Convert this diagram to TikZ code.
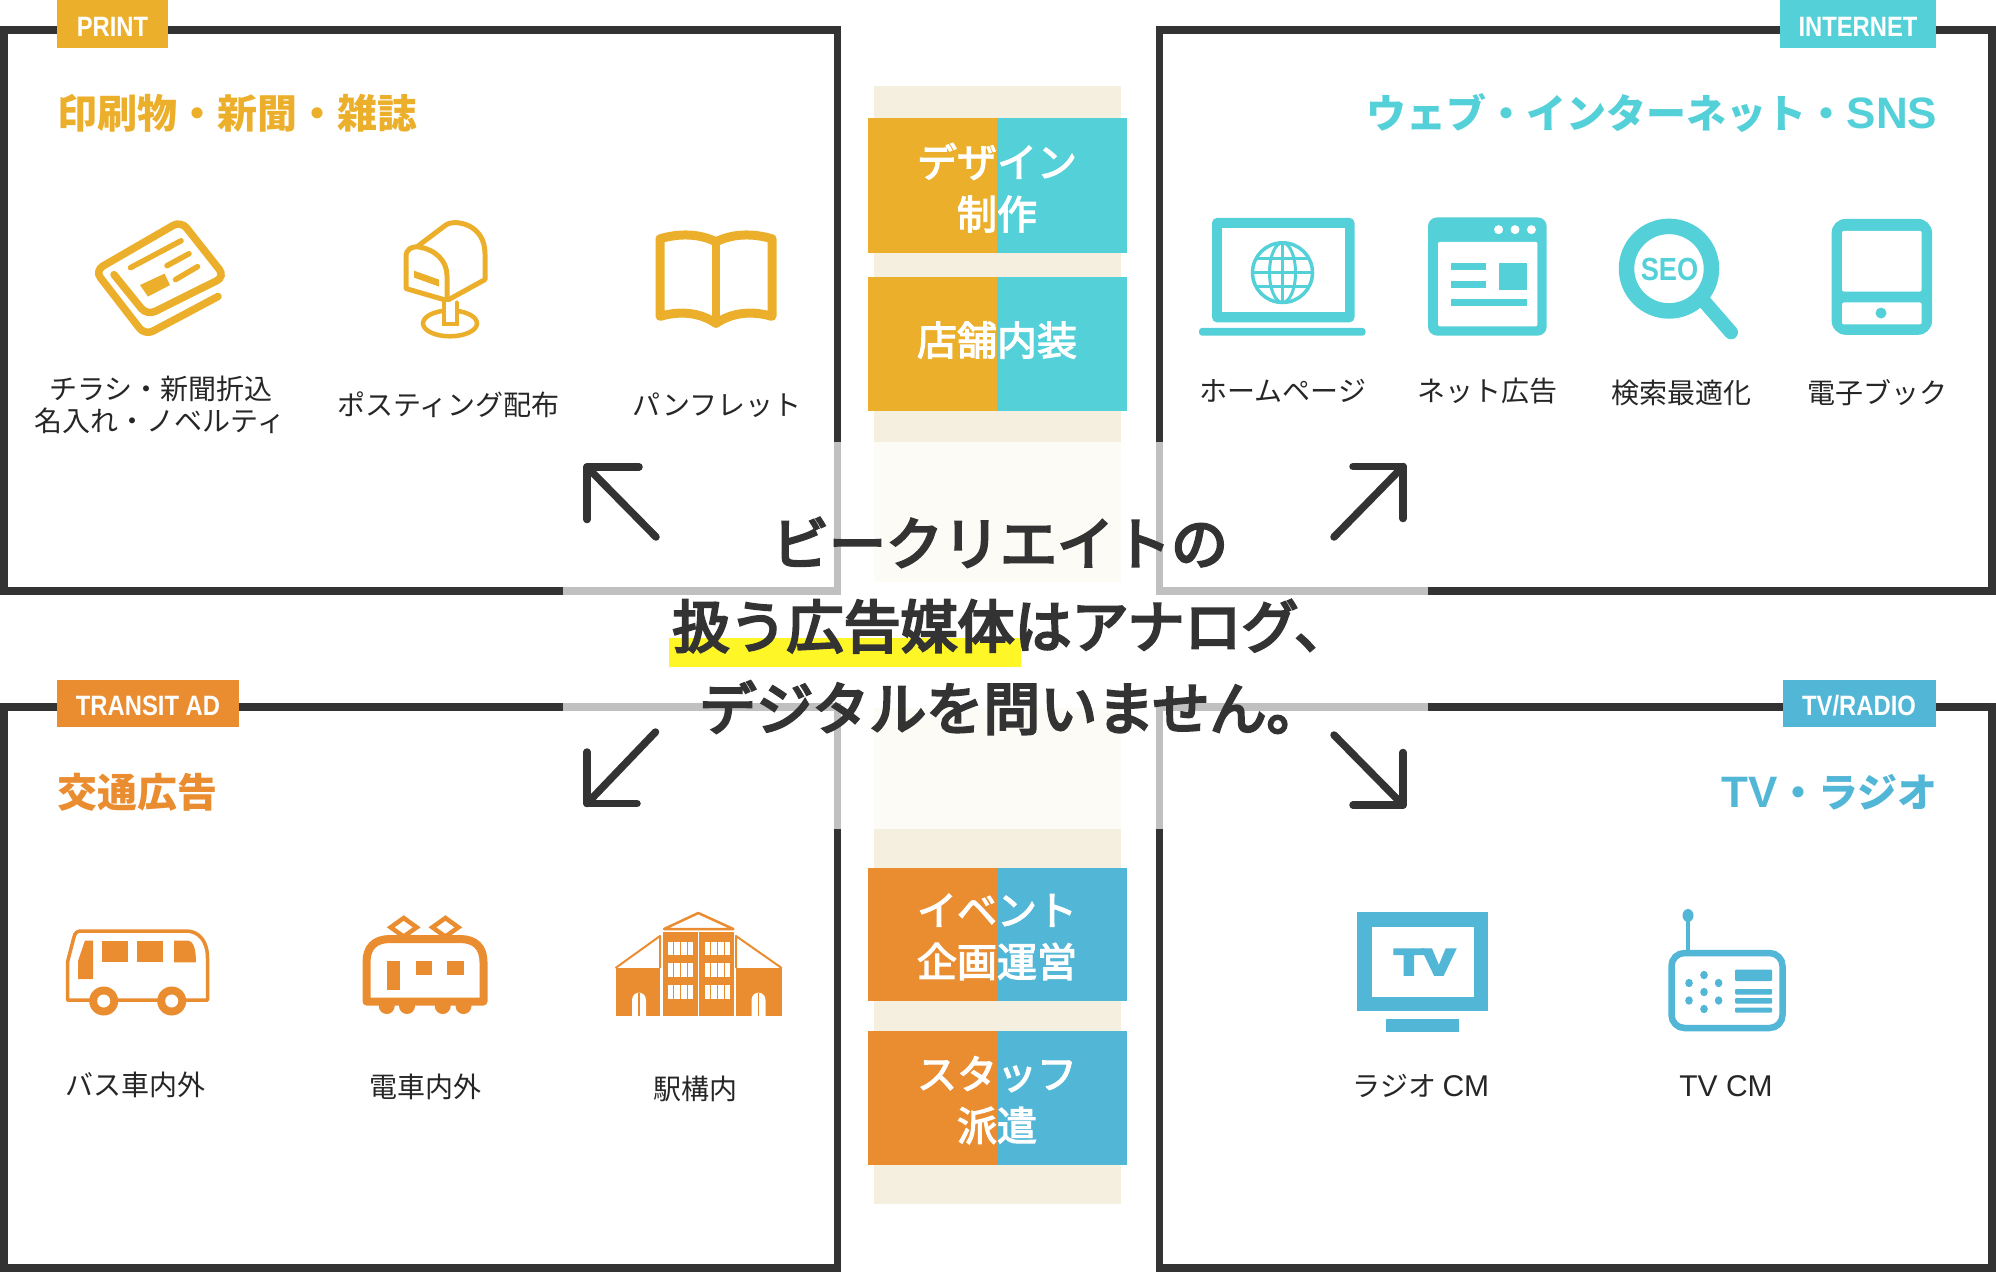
\documentclass[tikz,border=0pt]{standalone}
\usepackage{fontspec}
\setmainfont{Noto Sans CJK JP}
\newfontfamily\tagfont[FakeStretch=0.85]{Liberation Sans}
\newfontfamily\latinfont{Liberation Sans}
\newfontfamily\tvfont[BoldFeatures={FakeBold=8}]{Liberation Sans}
\newfontfamily\midfont[FakeBold=3]{Noto Sans CJK JP}
\newfontfamily\statefont[FakeBold=4.5]{Noto Sans CJK JP}
\definecolor{darkline}{HTML}{333333}
\definecolor{grayline}{HTML}{C0C0C0}
\definecolor{printgold}{HTML}{EBAF2B}
\definecolor{webcyan}{HTML}{54D0D8}
\definecolor{transitorange}{HTML}{EA8C30}
\definecolor{tvblue}{HTML}{52B6D7}
\definecolor{markyellow}{HTML}{FFF628}
\definecolor{beigedark}{HTML}{F5EFDF}
\definecolor{beigelight}{HTML}{FCFBF6}
\tikzset{
  boxline/.style = {line width = 7.5pt, darkline},
  boxfade/.style = {line width = 7.5pt, grayline},
  bigarrow/.style = {line width = 7.5pt, darkline, line cap = round, line join = round},
  itemlabel/.style = {inner sep = 0pt, text = black!85, font = \fontsize{28}{30}\selectfont, text height = 24.6pt, text depth = 3.4pt},
  headlabel/.style = {inner sep = 0pt, font = \fontsize{40}{44}\selectfont\bfseries, text height = 35.2pt, text depth = 4.8pt},
  taglabel/.style = {inner sep = 0pt, text = white, font = \fontsize{28}{30}\selectfont\tagfont\bfseries, text height = 20pt, text depth = 0pt},
  blocklabel/.style = {inner sep = 0pt, text = white, font = \fontsize{40}{44}\selectfont\midfont, text height = 35.2pt, text depth = 4.8pt},
  centerlabel/.style = {inner sep = 0pt, text = darkline, font = \fontsize{57}{60}\selectfont\statefont, text height = 50.2pt, text depth = 6.8pt}
}
\begin{document}
\begin{tikzpicture}[x = 1pt, y = -1pt]
\useasboundingbox (0,0) rectangle (1996,1272);
% middle column
\fill[beigedark] (874,86) rectangle (1121,442);
\fill[beigelight] (874,442) rectangle (1121,582);
\fill[beigelight] (874,708) rectangle (1121,829);
\fill[beigedark] (874,829) rectangle (1121,1204);
\foreach \ya/\yb/\cl/\cr in {118/252.7/printgold/webcyan, 277.3/411/printgold/webcyan, 867.5/1001/transitorange/tvblue, 1031.4/1165/transitorange/tvblue}{
  \fill[\cl] (868,\ya) rectangle (997.3,\yb);
  \fill[\cr] (997.3,\ya) rectangle (1127,\yb);
}
\node[blocklabel] (design) at (997,162) {デザイン};
\node[blocklabel] (seisaku) at (997,214) {制作};
\node[blocklabel] (tenpo) at (997,340) {店舗内装};
\node[blocklabel] (event) at (997,910) {イベント};
\node[blocklabel] (kikaku) at (997,961.5) {企画運営};
\node[blocklabel] (staff) at (997,1073.7) {スタッフ};
\node[blocklabel] (haken) at (997,1125.4) {派遣};
% frames
\draw[boxline] (563,591) -- (4,591) -- (4,30) -- (837.5,30) -- (837.5,442);
\draw[boxfade] (837.5,442) -- (837.5,591) -- (563,591);
\draw[boxline] (1159.5,442) -- (1159.5,30) -- (1992,30) -- (1992,591) -- (1427.6,591);
\draw[boxfade] (1427.6,591) -- (1159.5,591) -- (1159.5,442);
\draw[boxline] (563,707) -- (4,707) -- (4,1268) -- (837.5,1268) -- (837.5,829);
\draw[boxfade] (837.5,829) -- (837.5,707) -- (563,707);
\draw[boxline] (1159.5,829) -- (1159.5,1268) -- (1992,1268) -- (1992,707) -- (1427.6,707);
\draw[boxfade] (1427.6,707) -- (1159.5,707) -- (1159.5,829);
% corner tags
\fill[printgold] (57,0) rectangle (168,47.5);
\node[taglabel] (tagprint) at (112.5,26) {PRINT};
\fill[webcyan] (1780,0) rectangle (1936,47.5);
\node[taglabel] (tagweb) at (1858,26) {INTERNET};
\fill[transitorange] (57,680) rectangle (238.6,727);
\node[taglabel] (tagtransit) at (148,705.5) {TRANSIT AD};
\fill[tvblue] (1782.5,680) rectangle (1936,727);
\node[taglabel] (tagtv) at (1859,705.5) {TV/RADIO};
% headings
\node[headlabel, anchor = west, text = printgold] (headprint) at (57,113.5) {印刷物・新聞・雑誌};
\node[headlabel, anchor = east, text = webcyan] (headweb) at (1937.5,113.5) {ウェブ・インターネット・{\fontsize{44}{44}\selectfont\latinfont\bfseries SNS}};
\node[headlabel, anchor = west, text = transitorange] (headtransit) at (57,792) {交通広告};
\node[headlabel, anchor = east, text = tvblue] (headtv) at (1937.5,792) {{\fontsize{44}{44}\selectfont\latinfont\bfseries TV}・ラジオ};
% item labels
\node[itemlabel] (chirashi) at (161,389) {チラシ・新聞折込};
\node[itemlabel] (novelty) at (160,421) {名入れ・ノベルティ};
\node[itemlabel] (posting) at (448.5,405) {ポスティング配布};
\node[itemlabel] (pamphlet) at (717,404.5) {パンフレット};
\node[itemlabel] (homepage) at (1283,391) {ホームページ};
\node[itemlabel] (netad) at (1487,391) {ネット広告};
\node[itemlabel] (seo) at (1681,393) {検索最適化};
\node[itemlabel] (ebook) at (1877,393) {電子ブック};
\node[itemlabel] (bus) at (135,1085) {バス車内外};
\node[itemlabel] (train) at (425,1087) {電車内外};
\node[itemlabel] (station) at (695,1089) {駅構内};
\node[itemlabel] (radiocm) at (1421,1086) {ラジオ {\fontsize{30}{30}\selectfont\latinfont CM}};
\node[itemlabel] (tvcm) at (1726,1086) {\fontsize{30}{30}\selectfont\latinfont TV CM};
\begin{scope}[yscale = 0.995]
% newspaper
\draw[printgold, line width = 7.5pt, rounded corners = 9pt, line cap = round] (218,298) -- (145,337) -- (95,272) -- (181,222) -- (225,278) -- (147,317) -- (114,276);
\draw[printgold, line width = 5.5pt, line cap = round] (130.5,269) -- (181,242);
\draw[printgold, line width = 5.5pt, line cap = round] (167,267) -- (189,255);
\draw[printgold, line width = 5.5pt, line cap = round] (175.5,281) -- (197.5,268);
\fill[printgold] (140,286.5) -- (164.5,275) -- (170,286.5) -- (148,298) -- cycle;
% mailbox
\draw[printgold, line width = 5pt, line join = round] (447,302) -- (406,290) -- (406,258) .. controls (406,250) and (412,248) .. (417,248) .. controls (435,250) and (447,262) .. (447,277) -- cycle;
\draw[printgold, line width = 5pt, line join = round] (417,248) -- (446,226) .. controls (455,220) and (485,225) .. (485,255) -- (485,281) -- (447,302);
\fill[printgold] (414,272) -- (439,281) -- (439,288) -- (414,279) -- cycle;
\draw[printgold, line width = 4.5pt] (450,325) ellipse (27 and 13);
\fill[white] (443,304) rectangle (456.5,328);
\draw[printgold, line width = 4pt, line cap = round] (443.5,304) -- (443.5,326) -- (456.5,326) -- (456.5,304);
% book
\draw[printgold, line width = 9pt, line join = round] (716,243) .. controls (700,235) and (680,234) .. (660,240) -- (660,318) .. controls (680,312) and (700,314) .. (716,325) .. controls (732,314) and (752,312) .. (772,318) -- (772,240) .. controls (752,234) and (732,235) .. (716,243) -- cycle;
\draw[printgold, line width = 8pt] (716,243) -- (716,325);
% laptop
\fill[webcyan, rounded corners = 5pt] (1212,219) rectangle (1354.5,324);
\fill[white] (1222,229.6) rectangle (1345,314);
\fill[webcyan, rounded corners = 3pt] (1199,329.6) -- (1365.5,329.6) -- (1365.5,337.3) -- (1199,337.3) -- cycle;
\draw[webcyan, line width = 3.5pt] (1282.5,274) circle [radius = 30];
\draw[webcyan, line width = 3pt] (1282.5,274) ellipse (13 and 30);
\draw[webcyan, line width = 3pt] (1282.5,244) -- (1282.5,304);
\draw[webcyan, line width = 3pt] (1252.5,274) -- (1312.5,274);
\draw[webcyan, line width = 3pt] (1256,260) -- (1309,260);
\draw[webcyan, line width = 3pt] (1256,288) -- (1309,288);
% browser
\fill[webcyan, rounded corners = 9pt] (1428,218.5) rectangle (1546.7,337.3);
\fill[white, rounded corners = 2pt] (1438,243) rectangle (1537.4,328);
\foreach \dotx in {1498.6,1515,1531.4}{
  \fill[white] (\dotx,230.8) circle [radius = 4.5];
}
\fill[webcyan] (1451,264) rectangle (1486,271);
\fill[webcyan] (1451,282) rectangle (1486,289);
\fill[webcyan] (1499,264) rectangle (1526.5,291);
\fill[webcyan] (1451,300) rectangle (1526.5,307.7);
% magnifier
\draw[webcyan, line width = 14pt, line cap = round] (1705,304) -- (1731,334);
\draw[webcyan, line width = 15.5pt, fill = white] (1669,270) circle [radius = 42.5];
\node[inner sep = 0pt, text = webcyan, font = \fontsize{32}{34}\selectfont\tagfont\bfseries, text height = 23pt, text depth = 0pt] (seotext) at (1669.5,270) {SEO};
% tablet
\fill[webcyan, rounded corners = 14pt] (1831.6,220) rectangle (1932,336.5);
\fill[white, rounded corners = 2pt] (1842,232) rectangle (1921.7,293);
\fill[white, rounded corners = 2pt] (1842,304) rectangle (1921.7,326);
\fill[webcyan] (1881,314.6) circle [radius = 5.5];
\end{scope}
% bus
\draw[transitorange, line width = 3.5pt, line join = round] (67.5,1000) -- (67.5,962) -- (74,937) .. controls (75,933) and (77,931) .. (81,931) -- (186,931) .. controls (199,931) and (207.5,941) .. (207.5,958) -- (207.5,1000) -- cycle;
\fill[transitorange] (85,940.5) -- (93,940.5) -- (93,979) -- (78,979) -- (78,961) -- cycle;
\fill[transitorange] (102,940.5) rectangle (128,962.4);
\fill[transitorange] (136.6,940.5) rectangle (163,962.4);
\fill[transitorange] (174,940.5) -- (188,940.5) .. controls (193,941) and (196,948) .. (196,962.4) -- (174,962.4) -- cycle;
\foreach \wheelx in {103.7,171.7}{
  \fill[transitorange] (\wheelx,1001) circle [radius = 14.5];
  \fill[white] (\wheelx,1001) circle [radius = 6.5];
}
% train
\foreach \wheelx in {386.7,407,442.7,463.5}{
  \fill[transitorange] (\wheelx,1006) circle [radius = 8];
}
\draw[transitorange, line width = 8pt, line join = round, fill = white] (366.5,1001.5) -- (366.5,962) .. controls (366.5,947) and (375,939) .. (390,939) -- (460,939) .. controls (475,939) and (483.5,947) .. (483.5,962) -- (483.5,1001.5) -- cycle;
\fill[transitorange] (386.7,961) rectangle (400.4,989.5);
\fill[transitorange] (415.8,961) rectangle (432.3,975);
\fill[transitorange] (447,961) rectangle (463.5,975);
\foreach \panx in {403.7,445.4}{
  \draw[transitorange, line width = 4.5pt, line join = miter] (\panx-13,927.3) -- (\panx,918) -- (\panx+13,927.3) -- (\panx,936.6) -- cycle;
}
% station
\fill[transitorange] (615.5,968) rectangle (660,1016);
\fill[transitorange] (736,968) rectangle (781.7,1016);
\draw[transitorange, line width = 2pt, line join = round] (615.5,968) -- (660,936) -- (660,968);
\draw[transitorange, line width = 2pt, line join = round] (781.7,968) -- (736,936) -- (736,968);
\draw[transitorange, line width = 2.5pt, line join = round] (664,929) -- (698.3,913) -- (733.4,929) -- cycle;
\fill[transitorange] (662.7,932) rectangle (734,1016);
\draw[white, line width = 1.5pt] (698.3,932) -- (698.3,1016);
\foreach \winx in {666.5,703.7}{
  \foreach \winy in {940.5,962,984}{
    \fill[white] (\winx,\winy) rectangle (\winx+27.4,\winy+15.5);
    \draw[transitorange, line width = 1pt] (\winx+.5,\winy+.5) rectangle (\winx+26.9,\winy+15);
    \foreach \bar in {6.9,13.7,20.5}{
      \draw[transitorange, line width = 1pt] (\winx+\bar,\winy) -- (\winx+\bar,\winy+15.5);
    }
  }
}
\foreach \doorx in {632,751.5}{
  \fill[white] (\doorx,1016) -- (\doorx,1000) .. controls (\doorx,995) and (\doorx+4,992.6) .. (\doorx+7,992.6) .. controls (\doorx+10,992.6) and (\doorx+14,995) .. (\doorx+14,1000) -- (\doorx+14,1016) -- cycle;
  \draw[transitorange, line width = 1.3pt] (\doorx+7,992.6) -- (\doorx+7,1016);
}
% television
\fill[tvblue] (1357,912) rectangle (1487.7,1011.4);
\fill[white] (1372,926.5) rectangle (1473.5,997);
\fill[tvblue] (1386,1019.4) rectangle (1459,1032);
\node[inner sep = 0pt, text = tvblue, font = \fontsize{36}{38}\selectfont\tvfont\bfseries, text height = 25.7pt, text depth = 0pt] (tvtext) at (1424.5,961.6) {\scalebox{1.3}[1]{TV}};
% radio
\draw[tvblue, line width = 4.5pt, line cap = round] (1688,916) -- (1688,952);
\fill[tvblue] (1688,915.5) ellipse (5.5 and 6.5);
\draw[tvblue, line width = 6.5pt, fill = white, rounded corners = 13pt] (1671.5,953) rectangle (1782.5,1028);
\foreach \dotx/\doty in {1704/975, 1689/983, 1718.6/983, 1704/992, 1689/1000.5, 1718.6/1000.5, 1704/1009}{
  \fill[tvblue] (\dotx,\doty) ellipse (3.8 and 4.2);
}
\fill[tvblue, rounded corners = 1pt] (1735,969.5) rectangle (1772,981);
\fill[tvblue, rounded corners = 1pt] (1735,989) rectangle (1772,994.5);
\fill[tvblue, rounded corners = 1pt] (1735,998) rectangle (1772,1003.5);
\fill[tvblue, rounded corners = 1pt] (1735,1007.7) rectangle (1772,1012.6);
% arrows
\foreach \n/\tailx/\taily/\tipx/\tipy/\barbx/\barby in {nw/656/537/587/467/639/519.5, ne/1334/537/1403/466.5/1353/518.5, sw/655.5/732/587/803.5/637/752, se/1334/735/1403/805/1353/752.5}{
  \coordinate (tail\n) at (\tailx,\taily);
  \coordinate (tip\n) at (\tipx,\tipy);
  \coordinate (barba\n) at (\barbx,\tipy);
  \coordinate (barbb\n) at (\tipx,\barby);
  \draw[bigarrow] (tail\n) -- (tip\n);
  \draw[bigarrow] (barba\n) -- (tip\n) -- (barbb\n);
}
% central statement
\fill[markyellow] (669,637.7) rectangle (1021,667);
\node[centerlabel] (lineone) at (1000,543) {ビークリエイトの};
\node[centerlabel] (linetwo) at (1012,626) {扱う広告媒体はアナログ、};
\node[centerlabel] (linethree) at (1011.5,708) {デジタルを問いません。};
\end{tikzpicture}
\end{document}
